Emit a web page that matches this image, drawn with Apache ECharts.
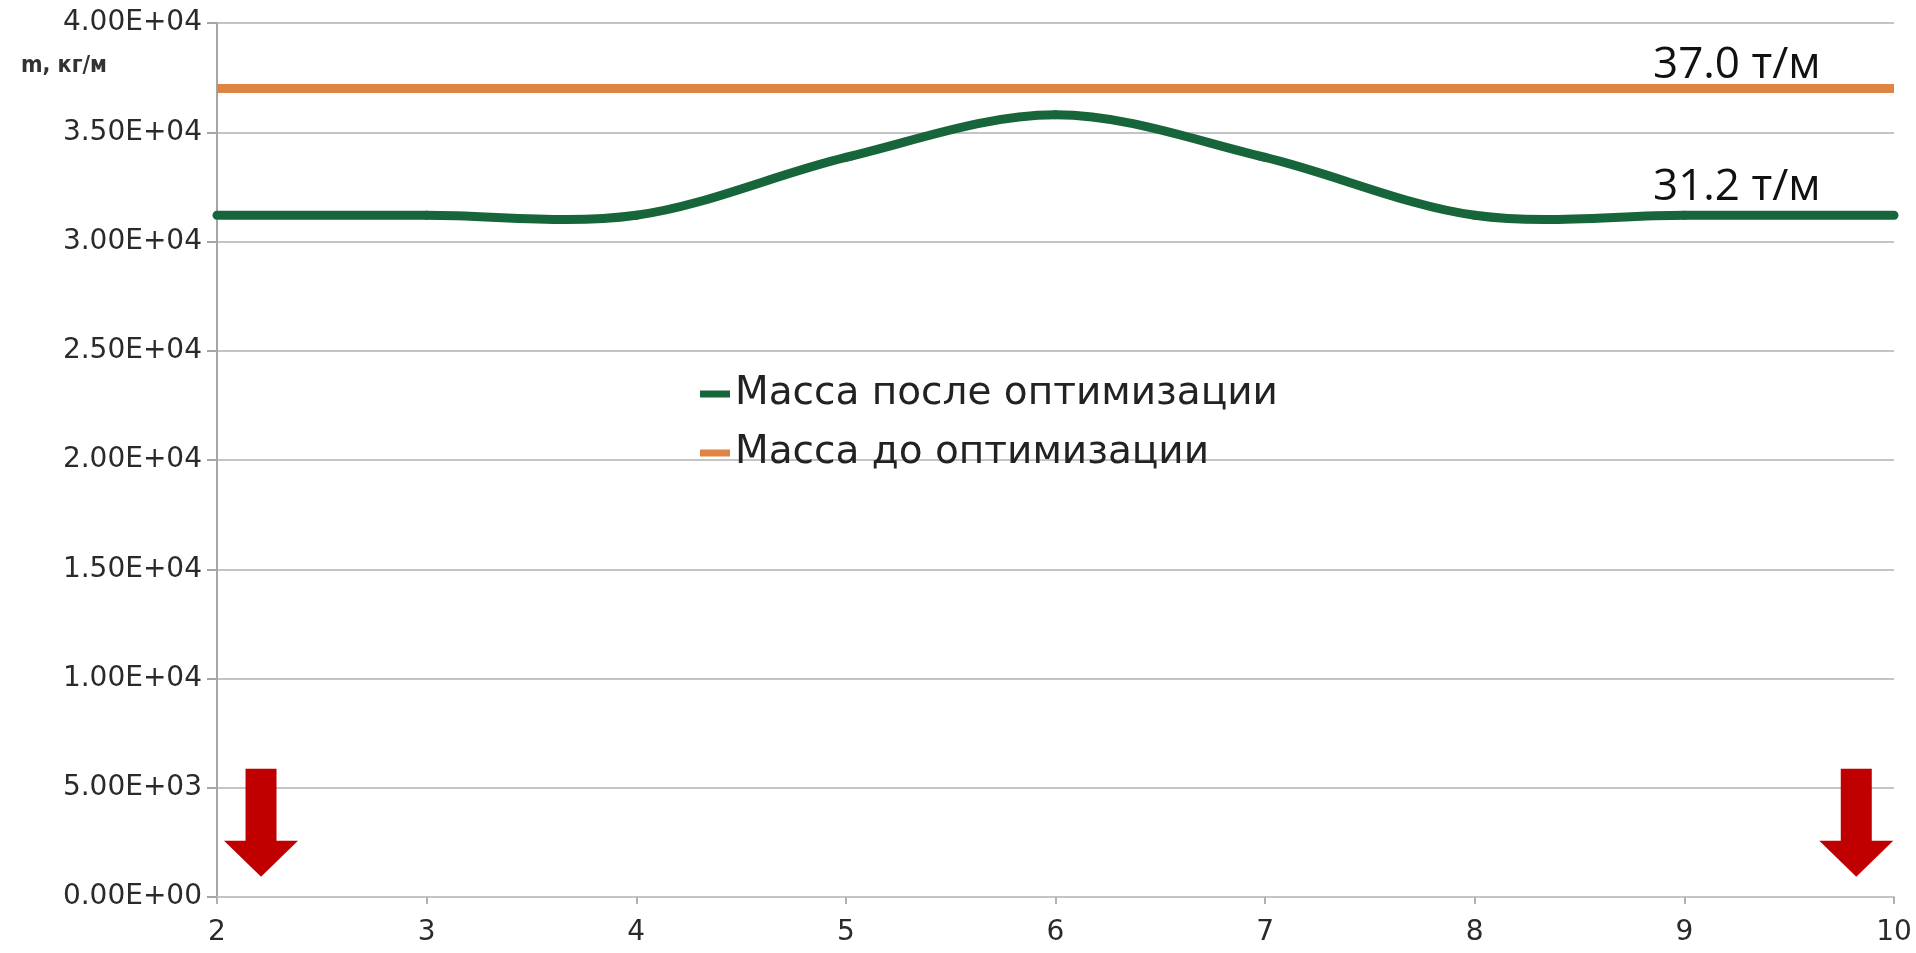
<!DOCTYPE html>
<html>
<head>
<meta charset="utf-8">
<style>
  html, body { margin: 0; padding: 0; background: #ffffff; }
  #chart { width: 1916px; height: 953px; }
</style>
<script src="https://cdn.jsdelivr.net/npm/echarts@6/dist/echarts.min.js"></script>
</head>
<body>
<div id="chart"></div>
<script>
// Position along the structure (x axis)
const xValues = [2, 3, 4, 5, 6, 7, 8, 9, 10];
// Mass per metre, kg/m
const massAfter = [31200, 31200, 31200, 33850, 35800, 33850, 31200, 31200, 31200];
const massBefore = [37000, 37000, 37000, 37000, 37000, 37000, 37000, 37000, 37000];
const seriesNames = ['Масса после оптимизации', 'Масса до оптимизации'];
const yAxisName = 'm, кг/м';
// Axis ranges
const yMin = 0, yMax = 40000, yStep = 5000;
const xMin = 2, xMax = 10, xStep = 1;
// Red support arrows: [x, y] in data units
const arrowMarks = [[2.21, 3400], [9.82, 3400]];
// Where the t/m value labels sit along x
const valueLabelX = 9.25;

const GREEN = '#17653a';
const ORANGE = '#de8444';
const RED = '#c00000';
const LINE_W = 9;

function sci(v) {
  const s = Number(v).toExponential(2);          // e.g. "4.00e+4"
  const [m, e] = s.split('e');
  const sign = e[0] === '-' ? '-' : '+';
  const digits = e.replace(/[+-]/, '').padStart(2, '0');
  return m + 'E' + sign + digits;
}
function tonnes(v) {
  return (v / 1000).toFixed(1) + ' т/м';
}

const pairs = (ys) => xValues.map((x, i) => [x, ys[i]]);
const arrowPath = 'path://M21.5,0 L52.5,0 L52.5,72 L74,72 L37,108 L0,72 L21.5,72 Z';

// Spreadsheet-style smoothed line: Catmull-Rom segments as cubic Béziers,
// built in pixel space from the data points via the chart's own coordinates.
function renderSmoothLine(params, api) {
  if (params.dataIndex !== 0) return null;
  const pts = xValues.map((x, i) => api.coord([x, massAfter[i]]));
  const n = pts.length;
  const children = [];
  for (let i = 0; i < n - 1; i++) {
    const p0 = pts[Math.max(i - 1, 0)];
    const p1 = pts[i];
    const p2 = pts[i + 1];
    const p3 = pts[Math.min(i + 2, n - 1)];
    children.push({
      type: 'bezierCurve',
      shape: {
        x1: p1[0], y1: p1[1],
        x2: p2[0], y2: p2[1],
        cpx1: p1[0] + (p2[0] - p0[0]) / 6, cpy1: p1[1] + (p2[1] - p0[1]) / 6,
        cpx2: p2[0] - (p3[0] - p1[0]) / 6, cpy2: p2[1] - (p3[1] - p1[1]) / 6
      },
      style: { stroke: GREEN, lineWidth: LINE_W, fill: null, lineCap: 'round' }
    });
  }
  return { type: 'group', children: children };
}

const chart = echarts.init(document.getElementById('chart'), null, { renderer: 'canvas' });

chart.setOption({
  backgroundColor: '#ffffff',
  animation: false,
  title: {
    text: yAxisName,
    left: 16,
    top: 50,
    textStyle: { fontFamily: '"DejaVu Sans Condensed", "DejaVu Sans"', fontWeight: 'bold', fontSize: 23, color: '#333333' }
  },
  grid: { left: 217, right: 22, top: 23, bottom: 56, containLabel: false },
  legend: {
    orient: 'vertical',
    left: 700,
    top: 372,
    padding: 0,
    itemGap: 15,
    itemWidth: 30,
    itemHeight: 7,
    data: [
      { name: seriesNames[0], icon: 'rect', itemStyle: { color: GREEN } },
      { name: seriesNames[1], icon: 'rect', itemStyle: { color: ORANGE } }
    ],
    textStyle: { fontFamily: 'DejaVu Sans', fontSize: 39, color: '#222222', lineHeight: 44 }
  },
  xAxis: {
    type: 'value',
    min: xMin, max: xMax, interval: xStep,
    axisLine: { show: true, onZero: false, lineStyle: { color: '#c4c4c4', width: 2 } },
    axisTick: { show: true, length: 7, lineStyle: { color: '#b0b0b0', width: 2 } },
    splitLine: { show: false },
    axisLabel: { fontFamily: 'DejaVu Sans', fontSize: 28, color: '#2a2a2a', margin: 22 }
  },
  yAxis: {
    type: 'value',
    min: yMin, max: yMax, interval: yStep,
    axisLine: { show: true, lineStyle: { color: '#a6a6a6', width: 2 } },
    axisTick: { show: true, length: 10, lineStyle: { color: '#a6a6a6', width: 2 } },
    splitLine: { show: true, lineStyle: { color: '#c4c4c4', width: 2 } },
    axisLabel: { fontFamily: 'DejaVu Sans', fontSize: 28, color: '#2a2a2a', margin: 15, formatter: sci }
  },
  series: [
    {
      name: seriesNames[0],
      type: 'custom',
      data: pairs(massAfter),
      encode: { x: 0, y: 1 },
      renderItem: renderSmoothLine,
      itemStyle: { color: GREEN },
      z: 3,
      markPoint: {
        symbol: 'circle',
        symbolSize: 0,
        silent: true,
        label: {
          show: true, position: 'top', distance: 6,
          fontFamily: 'Open Sans', fontSize: 44, color: '#111111',
          formatter: (p) => tonnes(p.value)
        },
        data: [{ coord: [valueLabelX, massAfter[massAfter.length - 1]], value: massAfter[massAfter.length - 1] }]
      }
    },
    {
      name: seriesNames[1],
      type: 'line',
      data: pairs(massBefore),
      showSymbol: false,
      symbol: 'none',
      color: ORANGE,
      lineStyle: { color: ORANGE, width: LINE_W },
      z: 2,
      markPoint: {
        symbol: 'circle',
        symbolSize: 0,
        silent: true,
        label: {
          show: true, position: 'top', distance: 1,
          fontFamily: 'Open Sans', fontSize: 44, color: '#111111',
          formatter: (p) => tonnes(p.value)
        },
        data: [{ coord: [valueLabelX, massBefore[massBefore.length - 1]], value: massBefore[massBefore.length - 1] }]
      }
    },
    {
      // support arrows drawn at data positions
      name: 'arrows',
      type: 'scatter',
      data: arrowMarks,
      symbol: arrowPath,
      symbolSize: [74, 108],
      symbolKeepAspect: false,
      itemStyle: { color: RED, opacity: 1 },
      silent: true,
      z: 4
    }
  ]
});
</script>
</body>
</html>
